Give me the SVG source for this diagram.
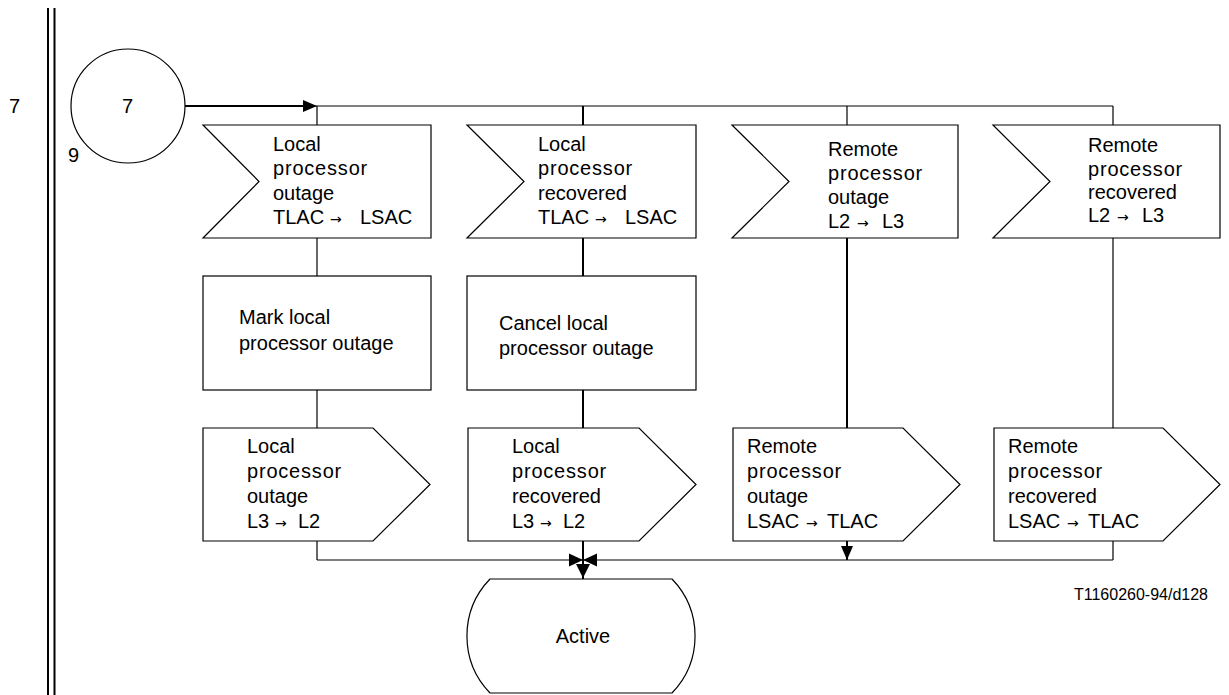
<svg xmlns="http://www.w3.org/2000/svg" width="1229" height="695" viewBox="0 0 1229 695">
<style>
.shape{fill:#fff;stroke:#000;stroke-width:1.2}
.ln{fill:none;stroke:#000;stroke-width:1.2}
.lnb{fill:none;stroke:#000;stroke-width:2}
.ah{fill:#000;stroke:none}
text{font-family:"Liberation Sans",Arial,sans-serif;font-size:20px;fill:#000}
.arr{font-family:"DejaVu Sans",sans-serif;font-size:14px}
.small{font-size:16px}
</style>
<rect x="0" y="0" width="1229" height="695" fill="#fff"/>
<g id="frame">
<line x1="48" y1="8" x2="48" y2="695" class="lnb"/>
<line x1="54.5" y1="8" x2="54.5" y2="695" class="lnb"/>
<text x="9" y="113">7</text>
</g>
<g id="connectors">
<line x1="185" y1="106" x2="305" y2="106" class="lnb"/>
<line x1="305" y1="106" x2="1113" y2="106" class="ln"/>
<polygon class="ah" points="303,100 317,106 303,112"/>
<line x1="317" y1="106" x2="317" y2="125" class="ln"/>
<line x1="583" y1="106" x2="583" y2="125" class="lnb"/>
<line x1="847" y1="106" x2="847" y2="125" class="ln"/>
<line x1="1113" y1="106" x2="1113" y2="125" class="ln"/>
<line x1="317" y1="238" x2="317" y2="276" class="ln"/>
<line x1="583" y1="238" x2="583" y2="276" class="lnb"/>
<line x1="317" y1="390" x2="317" y2="428" class="ln"/>
<line x1="583" y1="390" x2="583" y2="428" class="lnb"/>
<line x1="847" y1="238" x2="847" y2="428" class="lnb"/>
<line x1="1113" y1="238" x2="1113" y2="428" class="ln"/>
<line x1="317" y1="541" x2="317" y2="560" class="ln"/>
<line x1="583" y1="541" x2="583" y2="579" class="lnb"/>
<line x1="847" y1="541" x2="847" y2="560" class="lnb"/>
<line x1="1113" y1="541" x2="1113" y2="560" class="ln"/>
<line x1="317" y1="560" x2="1113" y2="560" class="ln"/>
<polygon class="ah" points="569,553.5 583,560 569,566.5"/>
<polygon class="ah" points="597,553.5 583,560 597,566.5"/>
<polygon class="ah" points="576,564 590,564 583,578"/>
<polygon class="ah" points="841,546 853,546 847,560"/>
</g>
<g id="start">
<circle cx="128" cy="106" r="57" class="shape"/>
<text x="122" y="113">7</text>
<text x="68" y="162">9</text>
</g>
<g id="in1">
<path class="shape" d="M203,125 H431 V238 H203 L259,181.5 Z"/>
<text x="273" y="151">Local</text>
<text x="273" y="175" letter-spacing="0.8">processor</text>
<text x="273" y="200">outage</text>
<text y="224"><tspan x="273">TLAC</tspan><tspan x="330" class="arr">→</tspan><tspan x="360">LSAC</tspan></text>
</g>
<g id="in2">
<path class="shape" d="M467,125 H696 V238 H467 L524,181.5 Z"/>
<text x="538" y="151">Local</text>
<text x="538" y="175" letter-spacing="0.8">processor</text>
<text x="538" y="200">recovered</text>
<text y="224"><tspan x="538">TLAC</tspan><tspan x="595" class="arr">→</tspan><tspan x="625">LSAC</tspan></text>
</g>
<g id="in3">
<path class="shape" d="M732,125 H958 V238 H732 L789,181.5 Z"/>
<text x="828" y="156">Remote</text>
<text x="828" y="180" letter-spacing="0.8">processor</text>
<text x="828" y="204">outage</text>
<text y="228"><tspan x="828">L2</tspan><tspan x="857" class="arr">→</tspan><tspan x="882">L3</tspan></text>
</g>
<g id="in4">
<path class="shape" d="M993,125 H1220 V238 H993 L1050,181.5 Z"/>
<text x="1088" y="152">Remote</text>
<text x="1088" y="176" letter-spacing="0.8">processor</text>
<text x="1088" y="199">recovered</text>
<text y="222"><tspan x="1088">L2</tspan><tspan x="1117" class="arr">→</tspan><tspan x="1142">L3</tspan></text>
</g>
<g id="task1">
<rect x="203" y="276" width="228" height="114" class="shape"/>
<text x="239" y="324">Mark local</text>
<text x="239" y="350">processor outage</text>
</g>
<g id="task2">
<rect x="467" y="276" width="229" height="114" class="shape"/>
<text x="499" y="330">Cancel local</text>
<text x="499" y="355">processor outage</text>
</g>
<g id="out1">
<path class="shape" d="M203,428 H373 L430,484.5 L373,541 H203 Z"/>
<text x="247" y="453">Local</text>
<text x="247" y="478" letter-spacing="0.8">processor</text>
<text x="247" y="503">outage</text>
<text y="528"><tspan x="247">L3</tspan><tspan x="275" class="arr">→</tspan><tspan x="298">L2</tspan></text>
</g>
<g id="out2">
<path class="shape" d="M468,428 H639 L696,484.5 L639,541 H468 Z"/>
<text x="512" y="453">Local</text>
<text x="512" y="478" letter-spacing="0.8">processor</text>
<text x="512" y="503">recovered</text>
<text y="528"><tspan x="512">L3</tspan><tspan x="540" class="arr">→</tspan><tspan x="563">L2</tspan></text>
</g>
<g id="out3">
<path class="shape" d="M733,428 H903 L960,484.5 L903,541 H733 Z"/>
<text x="747" y="453">Remote</text>
<text x="747" y="478" letter-spacing="0.8">processor</text>
<text x="747" y="503">outage</text>
<text y="528"><tspan x="747">LSAC</tspan><tspan x="806" class="arr">→</tspan><tspan x="827">TLAC</tspan></text>
</g>
<g id="out4">
<path class="shape" d="M994,428 H1163 L1220,484.5 L1163,541 H994 Z"/>
<text x="1008" y="453">Remote</text>
<text x="1008" y="478" letter-spacing="0.8">processor</text>
<text x="1008" y="503">recovered</text>
<text y="528"><tspan x="1008">LSAC</tspan><tspan x="1067" class="arr">→</tspan><tspan x="1088">TLAC</tspan></text>
</g>
<g id="active">
<path class="shape" d="M490,579 H672 A82,82 0 0 1 672,693 H490 A82,82 0 0 1 490,579 Z"/>
<text x="583" y="643" text-anchor="middle">Active</text>
</g>
<g id="ref">
<text x="1208" y="600" text-anchor="end" class="small">T1160260-94/d128</text>
</g>
</svg>
